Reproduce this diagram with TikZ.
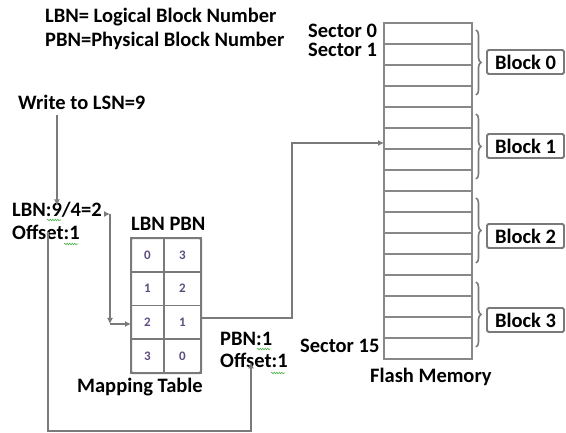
\documentclass[tikz,border=0pt]{standalone}
\usepackage{fontspec}
\setmainfont{Carlito}[BoldFont={Carlito Bold}]
\usetikzlibrary{arrows.meta,decorations.pathreplacing,decorations.pathmorphing}

\definecolor{linegray}{HTML}{7A7A7A}
\definecolor{gridgray}{HTML}{888888}
\definecolor{numcol}{HTML}{5E4E80}
\definecolor{squig}{HTML}{4CB04C}

\tikzset{
  lbl/.style={anchor=base west, inner sep=0pt, font=\fontsize{20.5}{24}\selectfont\bfseries},
  cell/.style={draw=linegray, line width=1.8pt, minimum height=33.75pt, inner sep=0pt,
               outer sep=0pt, font=\fontsize{13}{15}\selectfont\bfseries, text=numcol},
  blockbox/.style={draw=linegray, line width=1.8pt, rounded corners=1.5pt, minimum width=77pt,
               minimum height=24pt, inner sep=0pt, font=\fontsize{20.5}{23}\selectfont\bfseries},
  conn/.style={draw=linegray, line width=1.9pt},
  tip/.style={-{Latex[length=6pt,width=6pt]}},
  grp/.style={draw=linegray, line width=1.6pt, decorate,
              decoration={brace, amplitude=5pt}},
  spell/.style={draw=squig, line width=0.6pt, decorate,
                decoration={snake, segment length=2.5pt, amplitude=0.8pt}}
}

\begin{document}
\begin{tikzpicture}[x=1pt, y=-1pt]
\useasboundingbox (0,0) rectangle (566,433);

% legend
\node[lbl] (leg1) at (45,23) {LBN= Logical Block Number};
\node[lbl] (leg2) at (45,47) {PBN=Physical Block Number};

% request and address split
\node[lbl] (write) at (18,110) {Write to LSN=9};
\node[lbl] (lbn) at (12,217) {LBN:9/4=2};
\node[lbl] (off1) at (12,240) {Offset:1};
\node[lbl] (pbn) at (220,345) {PBN:1};
\node[lbl] (off2) at (220,368) {Offset:1};

% spelling marks under the numbers
\draw[spell] (47,220) -- (61,220);
\draw[spell] (64,244) -- (78,244);
\draw[spell] (257,349) -- (270,349);
\draw[spell] (271,373) -- (285,373);

% mapping table
\node[lbl] (thead) at (131,231) {LBN PBN};
\foreach \r/\a/\b in {0/0/3, 1/1/2, 2/2/1, 3/3/0} {
  \node[cell, minimum width=33pt] (l\r) at (147.5,{254.9+33.75*\r}) {\a};
  \node[cell, minimum width=37pt] (p\r) at (182.5,{254.9+33.75*\r}) {\b};
}
\draw[linegray, line width=2pt, rounded corners=1.5pt] (l0.north west) rectangle (p3.south east);
\node[lbl] (mtab) at (77,392) {Mapping Table};

% flash memory: 16 sectors
\foreach \s in {0,...,15} {
  \node[draw=gridgray, line width=1.7pt, minimum width=88pt, minimum height=21pt,
        inner sep=0pt, outer sep=0pt] (s\s) at (428,{33.5+21*\s}) {};
}
\node[lbl] (sec0) at (308,38) {Sector 0};
\node[lbl] (sec1) at (308,57) {Sector 1};
\node[lbl] (sec15) at (300,353) {Sector 15};
\node[lbl] (fmem) at (370,383) {Flash Memory};

% blocks of four sectors
\foreach \k in {0,...,3} {
  \coordinate (bt\k) at (476,{23+84*\k+7});
  \coordinate (bb\k) at (476,{23+84*\k+72});
  \draw[grp] (bt\k) -- (bb\k);
}
\node[blockbox] (blk0) at (525.5,62) {Block 0};
\node[blockbox] (blk1) at (525.5,146) {Block 1};
\node[blockbox] (blk2) at (525.5,236) {Block 2};
\node[blockbox] (blk3) at (525.5,320) {Block 3};

% connectors
\draw[conn, tip] (lbn.north |- write.south) ++(0,5) -- ([yshift=-3pt]lbn.north);

\coordinate (k1) at (110,214);
\coordinate (k2) at (110,324);
\draw[conn, tip] ([xshift=2pt]lbn.east |- k1) -- (k1);
\draw[conn, tip] (k1) -- (k2);
\draw[conn, tip] (k2) -- (l2.west |- k2);

\coordinate (q1) at (48,431);
\coordinate (q2) at (251,431);
\draw[conn, tip] ([yshift=8pt]off1.south -| q1) -- (q1) -- (q2) -- ([yshift=6pt]off2.south -| q2);

\coordinate (m1) at (292,318);
\coordinate (m2) at (292,143);
\draw[conn, tip] (p2.east |- m1) -- (m1) -- (m2) -- (s5.west |- m2);
\end{tikzpicture}
\end{document}
